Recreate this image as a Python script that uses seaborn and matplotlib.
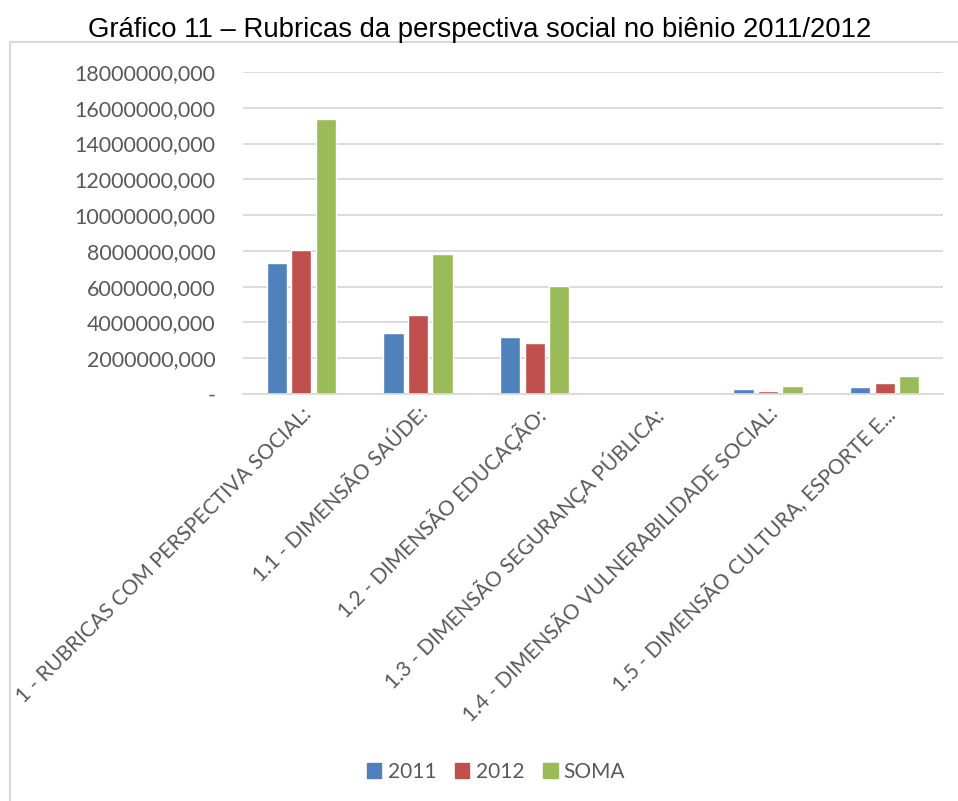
import matplotlib
matplotlib.use("Agg")
import matplotlib.pyplot as plt
import matplotlib.patches as mpatches
from matplotlib.ticker import FuncFormatter
import seaborn as sns
import pandas as pd

categories = [
    "1 - RUBRICAS COM PERSPECTIVA SOCIAL:",
    "1.1 - DIMENSÃO SAÚDE:",
    "1.2 - DIMENSÃO EDUCAÇÃO:",
    "1.3 - DIMENSÃO SEGURANÇA PÚBLICA:",
    "1.4 - DIMENSÃO VULNERABILIDADE SOCIAL:",
    "1.5 - DIMENSÃO CULTURA, ESPORTE E...",
]
series_names = ["2011", "2012", "SOMA"]
values_2011 = [7320000, 3410000, 3190000, 5000, 280000, 410000]
values_2012 = [8050000, 4420000, 2850000, 3000, 170000, 610000]
values_soma = [15370000, 7830000, 6040000, 8000, 450000, 1020000]
y_ticks = [0, 2000000, 4000000, 6000000, 8000000, 10000000,
           12000000, 14000000, 16000000, 18000000]
colors = ["#4F81BD", "#C0504D", "#9BBB59"]
title = "Gráfico 11 – Rubricas da perspectiva social no biênio 2011/2012"

rows = []
for name, vals in zip(series_names, [values_2011, values_2012, values_soma]):
    for cat, v in zip(categories, vals):
        rows.append({"categoria": cat, "serie": name, "valor": v})
df = pd.DataFrame(rows)

sns.set_theme(style="white")
plt.rcParams["font.family"] = ["Lato", "DejaVu Sans"]

fig = plt.figure(figsize=(9.58, 8.01), dpi=100)
ax = fig.add_axes([243 / 958, 1 - 394 / 801, 700 / 958, (394 - 72) / 801])

sns.barplot(data=df, x="categoria", y="valor", hue="serie", order=categories,
            hue_order=series_names, palette=colors, width=0.63, gap=0.18,
            ax=ax, legend=False, saturation=1)

ax.set_ylim(0, 18000000)
ax.set_yticks(y_ticks)


def fmt(v, pos):
    if v == 0:
        return "-"
    return f"{int(v)},000"


ax.yaxis.set_major_formatter(FuncFormatter(fmt))
ax.grid(axis="y", color="#d9d9d9", linewidth=1.3)
ax.set_axisbelow(True)
for side in ["top", "right", "left"]:
    ax.spines[side].set_visible(False)
ax.spines["bottom"].set_color("#d9d9d9")
ax.spines["bottom"].set_linewidth(1.3)
ax.set_xlabel("")
ax.set_ylabel("")
ax.tick_params(axis="y", labelsize=15.4, labelcolor="#595959", length=0, pad=20)
ax.tick_params(axis="x", labelsize=15, labelcolor="#595959", length=0, pad=7)
for lab in ax.get_xticklabels():
    lab.set_rotation(45)
    lab.set_ha("right")
    lab.set_va("top")
    lab.set_rotation_mode("anchor")

# chart frame
fig.patches.append(mpatches.Rectangle((10 / 958, -0.01), 1.0, 1 - 42 / 801 + 0.01,
                                      transform=fig.transFigure, fill=False,
                                      edgecolor="#d9d9d9", linewidth=1.5))

fig.text(480 / 958, 1 - 30 / 801, title, ha="center", va="center",
         fontsize=19.8, family=["Liberation Sans", "DejaVu Sans"], color="black")

handles = [mpatches.Patch(color=c, label=n) for c, n in zip(colors, series_names)]
fig.legend(handles=handles, loc="center", bbox_to_anchor=(496 / 958, 1 - 772 / 801),
           ncol=3, frameon=False, fontsize=15, handlelength=0.7, handleheight=0.7,
           handletextpad=0.3, columnspacing=0.9, labelcolor="#595959")

fig.savefig("out.png", dpi=100)
